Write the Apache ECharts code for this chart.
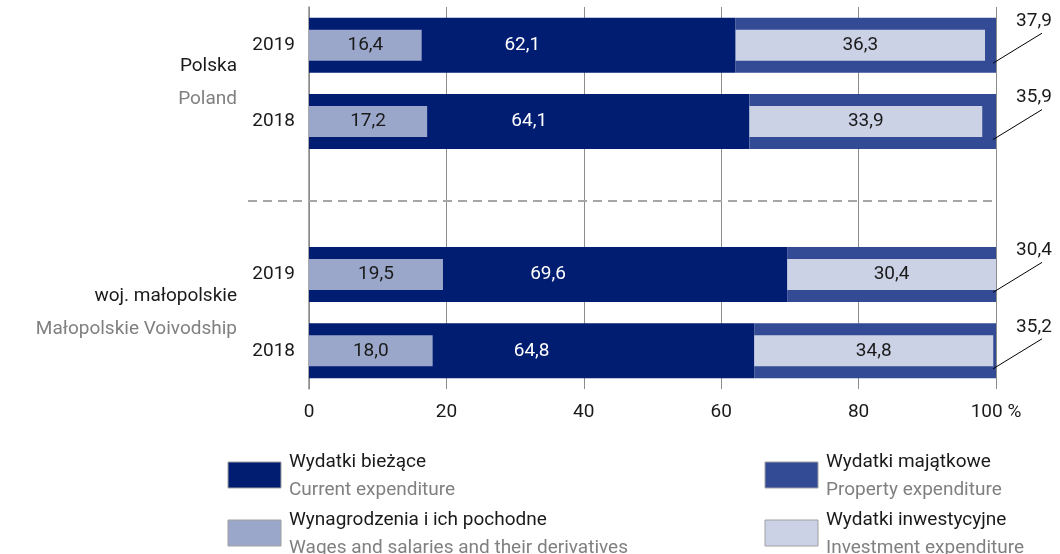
<!DOCTYPE html>
<html>
<head>
<meta charset="utf-8">
<script src="https://cdn.jsdelivr.net/npm/echarts@6/dist/echarts.min.js"></script>
<style>
  html, body { margin: 0; padding: 0; background: #ffffff; }
  #chart { width: 1060px; height: 554px; }
</style>
</head>
<body>
<div id="chart"></div>
<script>
// Rows of the chart (top to bottom); the empty row separates the two regions.
const rowKeys = ['pl2019', 'pl2018', 'gap', 'mp2019', 'mp2018'];
const yearLabels = ['2019', '2018', '', '2019', '2018'];

// Structure of expenditure, % of total
const current    = [62.1, 64.1, null, 69.6, 64.8];  // Wydatki bieżące
const property   = [37.9, 35.9, null, 30.4, 35.2];  // Wydatki majątkowe
const wages      = [16.4, 17.2, null, 19.5, 18.0];  // Wynagrodzenia i ich pochodne
const investment = [36.3, 33.9, null, 30.4, 34.8];  // Wydatki inwestycyjne

// Region names and the first row of each region
const regionNamesPl = ['Polska', 'woj. małopolskie'];
const regionNamesEn = ['Poland', 'Małopolskie Voivodship'];
const regionFirstRow = [0, 3];

// Legend entries
const legendPl = ['Wydatki bieżące', 'Wynagrodzenia i ich pochodne', 'Wydatki majątkowe', 'Wydatki inwestycyjne'];
const legendEn = ['Current expenditure', 'Wages and salaries and their derivatives', 'Property expenditure', 'Investment expenditure'];

const xTicks = [0, 20, 40, 60, 80, 100];

const C_CURRENT = '#001d72';
const C_PROPERTY = '#334b94';
const C_WAGES = '#9aa7ca';
const C_INVEST = '#cbd2e6';
const TEXT = '#1a1a1a';
const TEXT_EN = '#808080';
const GRID = '#8c8c8c';
const FONT = 'Roboto, "Open Sans", sans-serif';
const FS = 19;

const fmt = v => (v == null ? '' : Number(v).toFixed(1).replace('.', ','));

const chart = echarts.init(document.getElementById('chart'), null, { renderer: 'canvas' });

const option = {
  animation: false,
  backgroundColor: '#ffffff',
  textStyle: { fontFamily: FONT },
  grid: { left: 309, right: 64, top: 7, bottom: 165, containLabel: false },
  xAxis: {
    type: 'value',
    min: xTicks[0],
    max: xTicks[xTicks.length - 1],
    interval: xTicks[1] - xTicks[0],
    axisLine: { show: false },
    axisTick: { show: false },
    splitLine: { show: true, lineStyle: { color: GRID, width: 1 } },
    axisLabel: {
      margin: 14,
      fontSize: FS,
      color: TEXT,
      fontFamily: FONT,
      formatter: v => (v === 100 ? '100 %' : String(v))
    }
  },
  yAxis: [
    {
      type: 'category',
      inverse: true,
      data: rowKeys,
      axisLine: { show: true, lineStyle: { color: GRID, width: 1.5 } },
      axisTick: { show: false },
      splitLine: { show: false },
      axisLabel: {
        margin: 14,
        fontSize: FS,
        color: TEXT,
        fontFamily: FONT,
        formatter: (v, i) => yearLabels[i]
      }
    },
    {
      type: 'category',
      inverse: true,
      data: rowKeys,
      show: false
    }
  ],
  series: [
    {
      name: 'Wydatki bieżące',
      type: 'bar',
      stack: 'total',
      yAxisIndex: 0,
      barWidth: 55,
      data: current,
      itemStyle: { color: C_CURRENT },
      label: {
        show: true, position: 'inside', color: '#ffffff',
        fontSize: FS, fontFamily: FONT, formatter: p => fmt(p.value)
      },
      z: 2
    },
    {
      name: 'Wydatki majątkowe',
      type: 'bar',
      stack: 'total',
      yAxisIndex: 0,
      barWidth: 55,
      data: property,
      itemStyle: { color: C_PROPERTY },
      z: 2
    },
    {
      name: 'Wynagrodzenia i ich pochodne',
      type: 'bar',
      stack: 'wages',
      yAxisIndex: 1,
      barWidth: 31,
      barGap: '-100%',
      data: wages,
      itemStyle: { color: C_WAGES },
      label: {
        show: true, position: 'inside', color: TEXT,
        fontSize: FS, fontFamily: FONT, formatter: p => fmt(p.value)
      },
      z: 3
    },
    {
      // invisible offset so that investment starts where current expenditure ends
      name: 'base',
      type: 'bar',
      stack: 'invest',
      yAxisIndex: 1,
      barWidth: 31,
      data: current,
      itemStyle: { color: 'rgba(0,0,0,0)' },
      silent: true,
      z: 3
    },
    {
      name: 'Wydatki inwestycyjne',
      type: 'bar',
      stack: 'invest',
      yAxisIndex: 1,
      barWidth: 31,
      data: investment,
      itemStyle: { color: C_INVEST },
      label: {
        show: true, position: 'inside', color: TEXT,
        fontSize: FS, fontFamily: FONT, formatter: p => fmt(p.value)
      },
      z: 3
    },
    {
      // property expenditure value placed outside the bar end with a leader line
      name: 'propertyLabels',
      type: 'custom',
      yAxisIndex: 0,
      clip: false,
      silent: true,
      z: 4,
      encode: { x: 0, y: 1 },
      data: property.map((v, i) => (v == null ? null : [current[i] + v, i, v])).filter(d => d),
      renderItem: (params, api) => {
        const p = api.coord([api.value(0), api.value(1)]);
        return {
          type: 'group',
          children: [
            {
              type: 'line',
              shape: { x1: p[0] - 3, y1: p[1] + 18, x2: p[0] + 46, y2: p[1] - 12 },
              style: { stroke: '#000000', lineWidth: 1 }
            },
            {
              type: 'text',
              style: {
                text: fmt(api.value(2)),
                x: p[0] + 38, y: p[1] - 24,
                align: 'center', verticalAlign: 'middle',
                fill: TEXT, fontSize: FS, fontFamily: FONT
              }
            }
          ]
        };
      }
    }
  ]
};

chart.setOption(option);

// Region names, separator and legend placed with the axes' own scales
const graphics = [];
const xAt = v => chart.convertToPixel({ xAxisIndex: 0 }, v);
const yAt = i => chart.convertToPixel({ yAxisIndex: 0 }, rowKeys[i]);

regionNamesPl.forEach((name, k) => {
  const y0 = yAt(regionFirstRow[k]);
  const y1 = yAt(regionFirstRow[k] + 1);
  const mid = (y0 + y1) / 2;
  graphics.push({
    type: 'text', right: 1060 - 237, top: mid - 27 + k,
    style: { text: name, fill: TEXT, fontSize: FS, fontFamily: FONT, align: 'right' }
  });
  graphics.push({
    type: 'text', right: 1060 - 237, top: mid + 6 + k,
    style: { text: regionNamesEn[k], fill: TEXT_EN, fontSize: FS, fontFamily: FONT, align: 'right' }
  });
});

const sepY = yAt(2) + 3;
graphics.push({
  type: 'line',
  shape: { x1: 248, y1: sepY, x2: xAt(100), y2: sepY },
  style: { stroke: '#a6a6a6', lineWidth: 2, lineDash: [9, 6] },
  z: 1
});

const legendColors = [C_CURRENT, C_WAGES, C_PROPERTY, C_INVEST];
const legendX = [228, 228, 765, 765];
const legendY = [462, 520, 462, 520];
legendPl.forEach((t, i) => {
  graphics.push({
    type: 'rect',
    shape: { x: legendX[i], y: legendY[i], width: 53, height: 26 },
    style: { fill: legendColors[i], stroke: '#a0a0a0', lineWidth: 1 }
  });
  graphics.push({
    type: 'text', x: legendX[i] + 61, y: legendY[i],
    style: { text: t, fill: TEXT, fontSize: FS, fontFamily: FONT, verticalAlign: 'middle' }
  });
  graphics.push({
    type: 'text', x: legendX[i] + 61, y: legendY[i] + 28,
    style: { text: legendEn[i], fill: TEXT_EN, fontSize: FS, fontFamily: FONT, verticalAlign: 'middle' }
  });
});

chart.setOption({ graphic: graphics });
</script>
</body>
</html>
